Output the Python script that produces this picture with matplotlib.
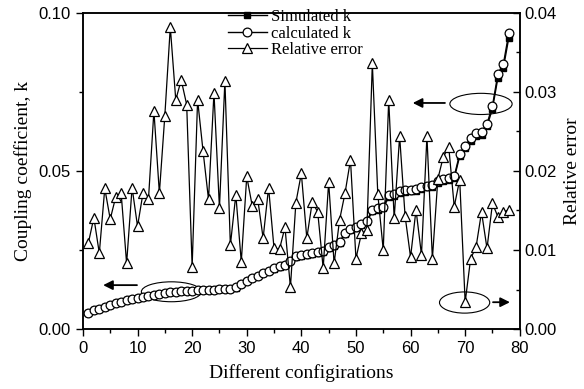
import matplotlib.pyplot as plt
import numpy as np
from matplotlib.patches import Ellipse
from matplotlib.ticker import MultipleLocator

# configuration index
configs = np.arange(1, 79)

# coupling coefficient, calculated (open circles)
k_calc = [0.0051, 0.0060, 0.0064, 0.0069, 0.0076, 0.0081, 0.0086, 0.0091, 0.0094, 0.0098,
          0.0102, 0.0105, 0.0108, 0.0111, 0.0114, 0.0116, 0.0118, 0.0120, 0.0121, 0.0122,
          0.0123, 0.0124, 0.0125, 0.0125, 0.0126, 0.0127, 0.0128, 0.0132, 0.0143, 0.0153,
          0.0161, 0.0169, 0.0177, 0.0185, 0.0192, 0.0198, 0.0204, 0.0216, 0.0230, 0.0234,
          0.0236, 0.0240, 0.0244, 0.0247, 0.0260, 0.0266, 0.0276, 0.0303, 0.0315, 0.0324,
          0.0332, 0.0343, 0.0377, 0.0382, 0.0387, 0.0424, 0.0426, 0.0436, 0.0440, 0.0441,
          0.0443, 0.0448, 0.0453, 0.0455, 0.0468, 0.0474, 0.0479, 0.0483, 0.0554, 0.0580,
          0.0603, 0.0619, 0.0622, 0.0649, 0.0706, 0.0807, 0.0838, 0.0936]

# coupling coefficient, simulated (filled squares)
k_sim = [0.0051, 0.0060, 0.0064, 0.0069, 0.0076, 0.0081, 0.0086, 0.0091, 0.0094, 0.0098,
         0.0102, 0.0105, 0.0108, 0.0111, 0.0114, 0.0116, 0.0118, 0.0120, 0.0121, 0.0122,
         0.0123, 0.0124, 0.0125, 0.0125, 0.0126, 0.0127, 0.0128, 0.0131, 0.0142, 0.0152,
         0.0160, 0.0168, 0.0176, 0.0184, 0.0191, 0.0197, 0.0203, 0.0214, 0.0228, 0.0232,
         0.0234, 0.0238, 0.0242, 0.0245, 0.0257, 0.0263, 0.0273, 0.0300, 0.0312, 0.0321,
         0.0329, 0.0340, 0.0372, 0.0377, 0.0382, 0.0418, 0.0420, 0.0430, 0.0434, 0.0436,
         0.0438, 0.0443, 0.0448, 0.0450, 0.0462, 0.0468, 0.0473, 0.0477, 0.0547, 0.0573,
         0.0596, 0.0612, 0.0615, 0.0641, 0.0697, 0.0795, 0.0826, 0.0922]

# relative error between the two (open triangles, right axis)
rel_err = [0.0109, 0.0141, 0.0096, 0.0178, 0.0139, 0.0167, 0.0172, 0.0083, 0.0179, 0.0130,
           0.0172, 0.0164, 0.0276, 0.0172, 0.0270, 0.0382, 0.0290, 0.0315, 0.0284, 0.0079,
           0.0290, 0.0225, 0.0164, 0.0299, 0.0153, 0.0314, 0.0106, 0.0170, 0.0085, 0.0193,
           0.0156, 0.0165, 0.0115, 0.0179, 0.0102, 0.0101, 0.0129, 0.0053, 0.0160, 0.0197,
           0.0115, 0.0161, 0.0148, 0.0077, 0.0186, 0.0083, 0.0138, 0.0172, 0.0214, 0.0089,
           0.0121, 0.0125, 0.0336, 0.0171, 0.0100, 0.0290, 0.0140, 0.0244, 0.0143, 0.0091,
           0.0151, 0.0094, 0.0244, 0.0089, 0.0190, 0.0218, 0.0230, 0.0155, 0.0189, 0.0034,
           0.0089, 0.0104, 0.0148, 0.0102, 0.0159, 0.0142, 0.0148, 0.0151]

serif = 'Liberation Serif'
sans = 'Liberation Sans'

fig = plt.figure(figsize=(5.84, 3.89), dpi=100)
ax = fig.add_axes([0.142, 0.154, 0.748, 0.813])
ax2 = ax.twinx()

l1, = ax.plot(configs, k_sim, color='black', lw=1.0, marker='s', ms=4.5,
              mfc='black', mec='black', label='Simulated k')
l2, = ax.plot(configs, k_calc, color='black', lw=1.0, marker='o', ms=6.3,
              mfc='white', mec='black', mew=0.9, label='calculated k')
l3, = ax2.plot(configs, rel_err, color='black', lw=0.9, marker='^', ms=7.5,
               mfc='white', mec='black', mew=0.9, label='Relative error')

ax.set_xlim(0, 80)
ax.set_ylim(0, 0.10)
ax2.set_ylim(0, 0.04)

ax.xaxis.set_major_locator(MultipleLocator(10))
ax.xaxis.set_minor_locator(MultipleLocator(5))
ax.yaxis.set_major_locator(MultipleLocator(0.05))
ax.yaxis.set_minor_locator(MultipleLocator(0.025))
ax2.yaxis.set_major_locator(MultipleLocator(0.01))
ax2.yaxis.set_minor_locator(MultipleLocator(0.005))
ax.yaxis.set_major_formatter(plt.FormatStrFormatter('%.2f'))
ax2.yaxis.set_major_formatter(plt.FormatStrFormatter('%.2f'))

ax.tick_params(axis='both', which='major', direction='out', length=5, width=1,
               labelsize=12, top=False)
ax.tick_params(axis='both', which='minor', direction='out', length=3, width=1, top=False)
ax2.tick_params(axis='y', which='major', direction='in', length=5, width=1, labelsize=12)
ax2.tick_params(axis='y', which='minor', direction='in', length=3, width=1)
for lab in ax.get_xticklabels() + ax.get_yticklabels() + ax2.get_yticklabels():
    lab.set_fontfamily(sans)

for a in (ax, ax2):
    for s in a.spines.values():
        s.set_linewidth(1.1)

ax.set_xlabel('Different configirations', fontfamily=serif, fontsize=14, labelpad=6)
ax.set_ylabel('Coupling coefficient, k', fontfamily=serif, fontsize=14, labelpad=5)
ax2.set_ylabel('Relative error', fontfamily=serif, fontsize=14, labelpad=5)

# annotation ellipses and arrows
ax.add_patch(Ellipse((16.2, 0.0118), 11.0, 0.0063, fill=False, lw=0.8, ec='black'))
ax.add_patch(Ellipse((72.9, 0.0712), 11.4, 0.0067, fill=False, lw=0.8, ec='black'))
ax.add_patch(Ellipse((69.9, 0.0084), 9.2, 0.0067, fill=False, lw=0.8, ec='black'))
arrow = dict(arrowstyle='-|>', color='black', lw=1.3, mutation_scale=14, shrinkA=0, shrinkB=0)
ax.annotate('', xy=(3.7, 0.0139), xytext=(9.9, 0.0139), arrowprops=arrow)
ax.annotate('', xy=(60.4, 0.0715), xytext=(66.3, 0.0715), arrowprops=arrow)
ax.annotate('', xy=(78.2, 0.0085), xytext=(75.1, 0.0085), arrowprops=arrow)

leg = ax2.legend(handles=[l1, l2, l3], loc='upper left', bbox_to_anchor=(0.325, 1.022),
                 frameon=False, prop={'family': serif, 'size': 12}, handlelength=2.3,
                 handletextpad=0.25, labelspacing=0.02, borderpad=0.2, borderaxespad=0)

fig.savefig('out.png', dpi=100)
